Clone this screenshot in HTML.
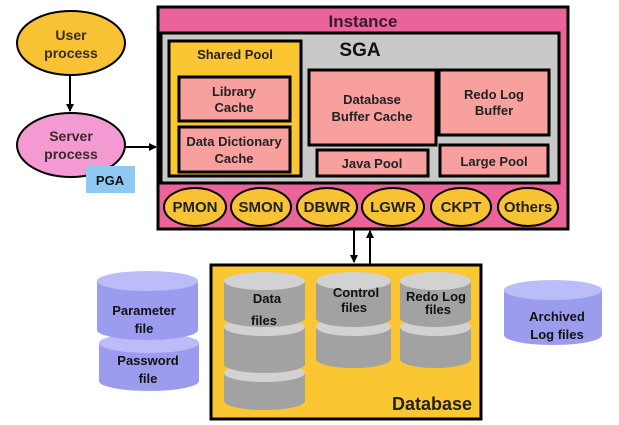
<!DOCTYPE html>
<html><head><style>
html,body{margin:0;padding:0;background:#fff;}
svg{display:block;font-family:"Liberation Sans",Arial,sans-serif;font-weight:bold;}
</style></head><body>
<svg width="619" height="425" viewBox="0 0 619 425">
<defs>
<marker id="ah" markerWidth="8" markerHeight="8" refX="7" refY="4" orient="auto" markerUnits="userSpaceOnUse">
<path d="M0,0 L8,4 L0,8 z" fill="#000"/></marker>
</defs>
<ellipse cx="71" cy="43" rx="54" ry="32" fill="#f7c233" stroke="#000" stroke-width="2"/>
<text x="71" y="40" font-size="14" text-anchor="middle" fill="#3a2a2a">User</text>
<text x="71" y="58" font-size="14" text-anchor="middle" fill="#3a2a2a">process</text>
<line x1="70" y1="75" x2="70" y2="111" stroke="#000" stroke-width="2" marker-end="url(#ah)"/>
<ellipse cx="71" cy="145" rx="54" ry="32" fill="#f49ad2" stroke="#000" stroke-width="2"/>
<text x="71" y="141" font-size="14" text-anchor="middle" fill="#3a2a2a">Server</text>
<text x="71" y="159" font-size="14" text-anchor="middle" fill="#3a2a2a">process</text>
<rect x="86" y="166" width="49" height="27" fill="#8fc9f2"/>
<text x="110" y="185" font-size="13" text-anchor="middle" fill="#111">PGA</text>
<line x1="125" y1="147" x2="156" y2="147" stroke="#000" stroke-width="2" marker-end="url(#ah)"/>
<rect x="158" y="7" width="410" height="222" fill="#ea649a" stroke="#000" stroke-width="3"/>
<text x="363" y="27" font-size="17" text-anchor="middle" fill="#3a1a2a">Instance</text>
<rect x="161" y="33" width="398" height="150" fill="#c9c9c9" stroke="#000" stroke-width="3"/>
<text x="360" y="56" font-size="19" text-anchor="middle" fill="#111">SGA</text>
<rect x="169" y="41" width="132" height="135" fill="#fac631" stroke="#000" stroke-width="3"/>
<text x="235" y="59" font-size="13" text-anchor="middle" fill="#222">Shared Pool</text>
<rect x="179" y="77" width="111" height="44" fill="#f7a09e" stroke="#000" stroke-width="3"/>
<text x="234" y="96" font-size="13" text-anchor="middle" fill="#222">Library</text>
<text x="234" y="112" font-size="13" text-anchor="middle" fill="#222">Cache</text>
<rect x="179" y="127" width="111" height="45" fill="#f7a09e" stroke="#000" stroke-width="3"/>
<text x="234" y="146" font-size="13" text-anchor="middle" fill="#222">Data Dictionary</text>
<text x="234" y="163" font-size="13" text-anchor="middle" fill="#222">Cache</text>
<rect x="309" y="70" width="127" height="75" fill="#f7a09e" stroke="#000" stroke-width="3"/>
<text x="372" y="104" font-size="13" text-anchor="middle" fill="#222">Database</text>
<text x="372" y="121" font-size="13" text-anchor="middle" fill="#222">Buffer Cache</text>
<rect x="317" y="150" width="111" height="26" fill="#f7a09e" stroke="#000" stroke-width="3"/>
<text x="372" y="168" font-size="13" text-anchor="middle" fill="#222">Java Pool</text>
<rect x="439" y="70" width="110" height="65" fill="#f7a09e" stroke="#000" stroke-width="3"/>
<text x="494" y="99" font-size="13" text-anchor="middle" fill="#222">Redo Log</text>
<text x="494" y="115" font-size="13" text-anchor="middle" fill="#222">Buffer</text>
<rect x="440" y="145" width="108" height="31" fill="#f7a09e" stroke="#000" stroke-width="3"/>
<text x="494" y="166" font-size="13" text-anchor="middle" fill="#222">Large Pool</text>
<g fill="#f7c233" stroke="#000" stroke-width="2">
<ellipse cx="195" cy="207" rx="31" ry="19"/>
<ellipse cx="261" cy="207" rx="30" ry="19"/>
<ellipse cx="327" cy="207" rx="30" ry="19"/>
<ellipse cx="393" cy="207" rx="31" ry="19"/>
<ellipse cx="461" cy="207" rx="30" ry="19"/>
<ellipse cx="528" cy="207" rx="30" ry="19"/>
</g>
<g font-size="15" text-anchor="middle" fill="#222">
<text x="195" y="212">PMON</text><text x="261" y="212">SMON</text><text x="327" y="212">DBWR</text>
<text x="393" y="212">LGWR</text><text x="461" y="212">CKPT</text><text x="528" y="212">Others</text>
</g>
<line x1="354" y1="230" x2="354" y2="262" stroke="#000" stroke-width="2" marker-end="url(#ah)"/>
<line x1="370" y1="264" x2="370" y2="231" stroke="#000" stroke-width="2" marker-end="url(#ah)"/>
<rect x="211" y="265" width="270" height="154" fill="#fac631" stroke="#000" stroke-width="3"/>
<text x="432" y="410" font-size="18" text-anchor="middle" fill="#222">Database</text>
<g fill="#a2a2a2">
<rect x="224" y="373" width="81" height="28"/><ellipse cx="264.5" cy="401" rx="40.5" ry="9"/><ellipse cx="264.5" cy="373" rx="40.5" ry="9" fill="#d2d2d2"/>
<rect x="224" y="327" width="81" height="37"/><ellipse cx="264.5" cy="364" rx="40.5" ry="9"/><ellipse cx="264.5" cy="327" rx="40.5" ry="9" fill="#d2d2d2"/>
<rect x="224" y="281" width="81" height="37"/><ellipse cx="264.5" cy="318" rx="40.5" ry="9"/><ellipse cx="264.5" cy="281" rx="40.5" ry="9" fill="#d2d2d2"/>
<rect x="316" y="327" width="75" height="32"/><ellipse cx="353.5" cy="359" rx="37.5" ry="9"/><ellipse cx="353.5" cy="327" rx="37.5" ry="9" fill="#d2d2d2"/>
<rect x="316" y="281" width="75" height="37"/><ellipse cx="353.5" cy="318" rx="37.5" ry="9"/><ellipse cx="353.5" cy="281" rx="37.5" ry="9" fill="#d2d2d2"/>
<rect x="400" y="327" width="71" height="32"/><ellipse cx="435.5" cy="359" rx="35.5" ry="9"/><ellipse cx="435.5" cy="327" rx="35.5" ry="9" fill="#d2d2d2"/>
<rect x="400" y="281" width="71" height="37"/><ellipse cx="435.5" cy="318" rx="35.5" ry="9"/><ellipse cx="435.5" cy="281" rx="35.5" ry="9" fill="#d2d2d2"/>
</g>
<g font-size="13" text-anchor="middle" fill="#111">
<text x="267" y="303">Data</text><text x="264" y="325">files</text>
<text x="356" y="297">Control</text><text x="354" y="312">files</text>
<text x="436" y="301">Redo Log</text><text x="438" y="314">files</text>
</g>
<g fill="#9c9cef">
<rect x="99" y="343" width="100" height="38"/><ellipse cx="149" cy="381" rx="50" ry="10"/><ellipse cx="149" cy="343" rx="50" ry="10" fill="#bcbcf8"/>
<rect x="97" y="281" width="101" height="49"/><ellipse cx="147.5" cy="330" rx="50.5" ry="10"/><ellipse cx="147.5" cy="281" rx="50.5" ry="10" fill="#bcbcf8"/>
<rect x="504" y="290" width="98" height="45"/><ellipse cx="553" cy="335" rx="49" ry="10"/><ellipse cx="553" cy="290" rx="49" ry="10" fill="#bcbcf8"/>
</g>
<g font-size="13" text-anchor="middle" fill="#111">
<text x="144" y="315">Parameter</text><text x="144" y="333">file</text>
<text x="148" y="365">Password</text><text x="148" y="383">file</text>
<text x="557" y="321">Archived</text><text x="557" y="339">Log files</text>
</g>
</svg>
</body></html>
